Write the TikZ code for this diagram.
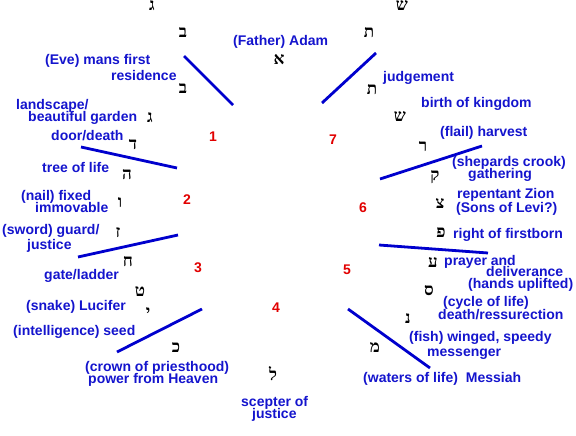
\documentclass[tikz,border=0pt]{standalone}
\usepackage{fontspec}
\setmainfont{Liberation Sans}
\newfontfamily\heb[Script=Hebrew]{Liberation Serif}
\definecolor{lblue}{RGB}{0,0,205}
\definecolor{tblue}{RGB}{20,20,205}
\definecolor{nred}{RGB}{225,0,0}
\tikzset{
  lbl/.style={anchor=west,inner sep=0pt,text=tblue,font=\fontsize{14}{14}\selectfont\bfseries,text height=9pt,text depth=2pt},
  let/.style={anchor=center,inner sep=0pt,font=\heb\fontsize{17}{17}\selectfont\bfseries},
  num/.style={anchor=center,inner sep=0pt,text=nred,font=\fontsize{14}{14}\selectfont\bfseries},
  bar/.style={draw=lblue,line width=2.8pt}
}
\begin{document}
\begin{tikzpicture}[x=1pt,y=-1pt]
\useasboundingbox (0,0) rectangle (576,436);
% Hebrew letters
\node[let] (g0) at (152,6) {ג};
\node[let] (b0) at (183,33) {ב};
\node[let] (sh0) at (402,6) {ש};
\node[let] (t0) at (369,33) {ת};
\node[let] (alef) at (279,60) {א};
\node[let] (bet) at (183,89) {ב};
\node[let] (gimel) at (150,118) {ג};
\node[let] (dalet) at (133,145) {ד};
\node[let] (he) at (127,175) {ה};
\node[let] (vav) at (120,203) {ו};
\node[let] (zayin) at (118,233) {ז};
\node[let] (het) at (128,262) {ח};
\node[let] (tet) at (140,292) {ט};
\node[let] (yod) at (148,313) {י};
\node[let] (kaf) at (176,348) {כ};
\node[let] (lamed) at (273,374) {ל};
\node[let] (mem) at (375,348) {מ};
\node[let] (nun) at (408,318) {נ};
\node[let] (samekh) at (429,291) {ס};
\node[let] (ayin) at (433,262) {ע};
\node[let] (pe) at (441,233) {פ};
\node[let] (tsadi) at (440,203) {צ};
\node[let] (qof) at (435,177) {ק};
\node[let] (resh) at (423,147) {ר};
\node[let] (shin) at (400,117) {ש};
\node[let] (tav) at (372,90) {ת};
% numbers
\node[num] (n1) at (213,137) {1};
\node[num] (n2) at (187,200) {2};
\node[num] (n3) at (198,268) {3};
\node[num] (n4) at (276,308) {4};
\node[num] (n5) at (347,270) {5};
\node[num] (n6) at (363,208) {6};
\node[num] (n7) at (333,140) {7};
% labels
\node[lbl] (t1) at (233,42) {(Father) Adam};
\node[lbl] (t2a) at (45,61) {(Eve) mans first};
\node[lbl] (t2b) at (111,77) {residence};
\node[lbl] (t3a) at (16,106) {landscape/};
\node[lbl] (t3b) at (28,118) {beautiful garden};
\node[lbl] (t4) at (51,137) {door/death};
\node[lbl] (t5) at (42,169) {tree of life};
\node[lbl] (t6a) at (21,197) {(nail) fixed};
\node[lbl] (t6b) at (35,209) {immovable};
\node[lbl] (t7a) at (2,231) {(sword) guard/};
\node[lbl] (t7b) at (27,246) {justice};
\node[lbl] (t8) at (44,276) {gate/ladder};
\node[lbl] (t9) at (26,307) {(snake) Lucifer};
\node[lbl] (t10) at (13,332) {(intelligence) seed};
\node[lbl] (t11a) at (85,368) {(crown of priesthood)};
\node[lbl] (t11b) at (88,380) {power from Heaven};
\node[lbl] (t12a) at (241,403) {scepter of};
\node[lbl] (t12b) at (252,415) {justice};
\node[lbl] (t13) at (363,379) {(waters of life)\ \ Messiah};
\node[lbl] (t14a) at (409,338) {(fish) winged, speedy};
\node[lbl] (t14b) at (427,353) {messenger};
\node[lbl] (t15a) at (443,303) {(cycle of life)};
\node[lbl] (t15b) at (438,316) {death/ressurection};
\node[lbl] (t16c) at (468,285) {(hands uplifted)};
\node[lbl] (t16a) at (444,262) {prayer and};
\node[lbl] (t16b) at (486,273) {deliverance};
\node[lbl] (t17) at (453,235) {right of firstborn};
\node[lbl] (t18a) at (457,195) {repentant Zion};
\node[lbl] (t18b) at (456,209) {(Sons of Levi?)};
\node[lbl] (t19a) at (452,163) {(shepards crook)};
\node[lbl] (t19b) at (468,175) {gathering};
\node[lbl] (t20) at (440,133) {(flail) harvest};
\node[lbl] (t21) at (421,104) {birth of kingdom};
\node[lbl] (t22) at (383,78) {judgement};
% divider lines
\coordinate (a1) at (184,56); \coordinate (a2) at (233,105);
\coordinate (b1) at (81,147); \coordinate (b2) at (177,168);
\coordinate (c1) at (78,257); \coordinate (c2) at (178,235);
\coordinate (d1) at (117,352); \coordinate (d2) at (202,309);
\coordinate (e1) at (348,309); \coordinate (e2) at (430,368);
\coordinate (f1) at (379,245); \coordinate (f2) at (488,253);
\coordinate (g1) at (380,179); \coordinate (g2) at (482,146);
\coordinate (h1) at (322,103); \coordinate (h2) at (376,53);
\draw[bar] (a1) -- (a2);
\draw[bar] (b1) -- (b2);
\draw[bar] (c1) -- (c2);
\draw[bar] (d1) -- (d2);
\draw[bar] (e1) -- (e2);
\draw[bar] (f1) -- (f2);
\draw[bar] (g1) -- (g2);
\draw[bar] (h1) -- (h2);
\end{tikzpicture}
\end{document}
